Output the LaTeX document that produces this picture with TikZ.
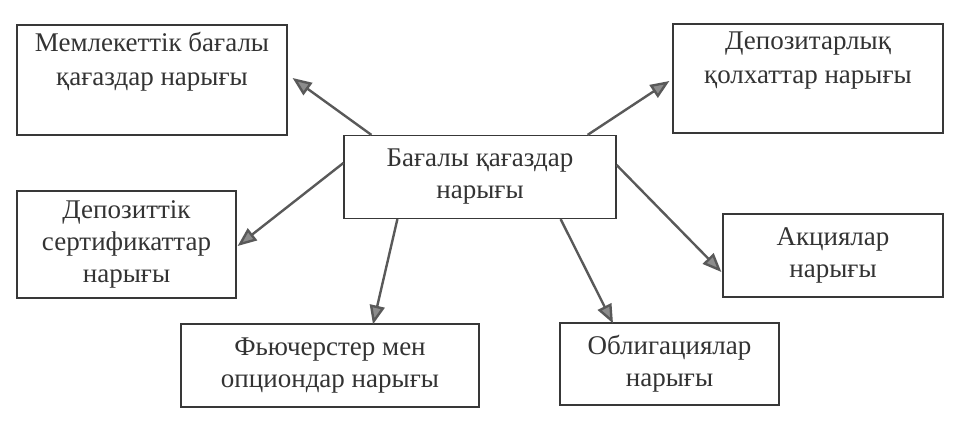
\documentclass[tikz,border=0pt]{standalone}
\usepackage{fontspec}
\setmainfont{Liberation Serif}
\usetikzlibrary{arrows.meta}
\tikzset{
  box/.style={draw=black!78, line width=1.2pt, rectangle, inner sep=0pt,
    align=center, text=black!80,
    font=\fontsize{27}{32}\selectfont},
  conn/.style={draw=black!65, line width=2.4pt,
    -{Triangle[length=19pt,width=15pt,fill=black!45]}}
}
\begin{document}
\begin{tikzpicture}[x=1pt,y=-1pt]
\useasboundingbox (0,0) rectangle (962,425);
\node[box, minimum width=272pt, minimum height=83pt] (c) at (480,177)
  {Бағалы қағаздар\\нарығы};
\node[box, minimum width=270pt, minimum height=110pt] (b1) at (152,80)
  {Мемлекеттік бағалы\\[2pt]қағаздар нарығы\\\strut};
\node[box, minimum width=270pt, minimum height=109pt] (b2) at (808,78.5)
  {Депозитарлық\\[2pt]қолхаттар нарығы\\\strut};
\node[box, minimum width=219pt, minimum height=107pt] (b4) at (126.5,244.5)
  {Депозиттік\\сертификаттар\\нарығы};
\node[box, minimum width=220pt, minimum height=83pt] (b5) at (833,255.5)
  {Акциялар\\нарығы};
\node[box, minimum width=298pt, minimum height=83pt] (b6) at (330,365.5)
  {Фьючерстер мен\\опциондар нарығы};
\node[box, minimum width=219pt, minimum height=82pt] (b7) at (669.5,364)
  {Облигациялар\\нарығы};
\draw[conn] ([xshift=28pt]c.north west) -- ([xshift=5pt,yshift=2pt]b1.east);
\draw[conn] ([xshift=-29pt]c.north east) -- ([xshift=-3pt,yshift=-2.5pt]b2.west);
\draw[conn] ([yshift=14pt]c.west) -- ([xshift=1pt,yshift=-1.5pt]b4.east);
\draw[conn] ([yshift=12pt]c.east) -- ([xshift=-1pt,yshift=-16.5pt]b5.west);
\draw[conn] ([xshift=54pt]c.south west) -- ([xshift=43pt,yshift=-1pt]b6.north);
\draw[conn] ([xshift=-56pt]c.south east) -- ([xshift=-56.5pt,yshift=-1pt]b7.north);
\end{tikzpicture}
\end{document}
